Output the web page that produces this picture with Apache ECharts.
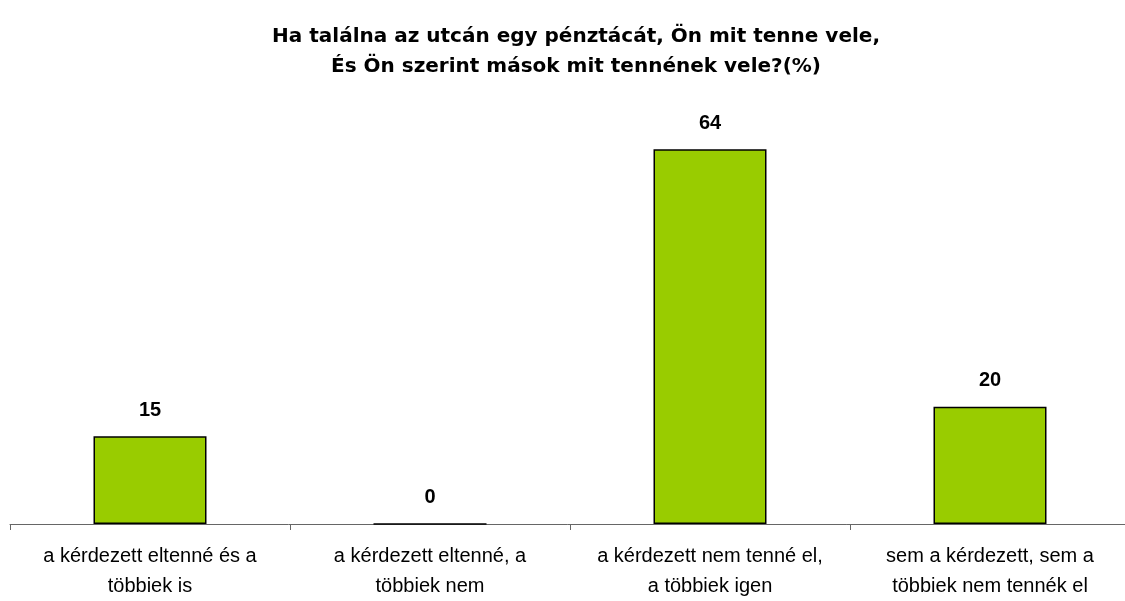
<!DOCTYPE html>
<html>
<head>
<meta charset="utf-8">
<script src="https://cdn.jsdelivr.net/npm/echarts@6/dist/echarts.min.js"></script>
<style>
  html, body { margin: 0; padding: 0; background: #fff; }
  #main { width: 1125px; height: 601px; }
</style>
</head>
<body>
<div id="main"></div>
<script>
var categories = [
  "a kérdezett eltenné és a\ntöbbiek is",
  "a kérdezett eltenné, a\ntöbbiek nem",
  "a kérdezett nem tenné el,\na többiek igen",
  "sem a kérdezett, sem a\ntöbbiek nem tennék el"
];
var values = [15, 0, 64, 20];

var chartDom = document.getElementById("main");
var myChart = echarts.init(chartDom);
var option;

option = {
  animation: false,
  title: {
    text: "Ha találna az utcán egy pénztácát, Ön mit tenne vele,\nÉs Ön szerint mások mit tennének vele?(%)",
    left: 571,
    textAlign: "center",
    top: 17,
    textStyle: {
      fontFamily: "DejaVu Sans",
      fontSize: 20,
      fontWeight: "bold",
      color: "#000",
      lineHeight: 30,
    },
  },
  grid: {
    left: 10,
    right: -5,
    top: 114,
    bottom: 77,
    containLabel: false,
    outerBoundsMode: "none",
  },
  xAxis: {
    type: "category",
    data: categories,
    axisLine: { lineStyle: { color: "#666", width: 1 } },
    axisTick: { show: true, length: 6, lineStyle: { color: "#666" } },
    axisLabel: {
      interval: 0,
      margin: 17,
      fontFamily: "Liberation Sans",
      fontSize: 20,
      color: "#000",
      lineHeight: 30,
    },
  },
  yAxis: {
    type: "value",
    min: 0,
    max: 70,
    show: false,
    splitLine: { show: false },
  },
  series: [
    {
      type: "bar",
      data: values,
      barWidth: 113,
      itemStyle: {
        color: "#99CC00",
        borderColor: "#000",
        borderWidth: 1.5,
      },
      label: {
        show: true,
        position: "top",
        distance: 16,
        fontFamily: "Liberation Sans",
        fontSize: 20,
        fontWeight: "bold",
        color: "#000",
      },
    },
  ],
};

option && myChart.setOption(option);
</script>
</body>
</html>
